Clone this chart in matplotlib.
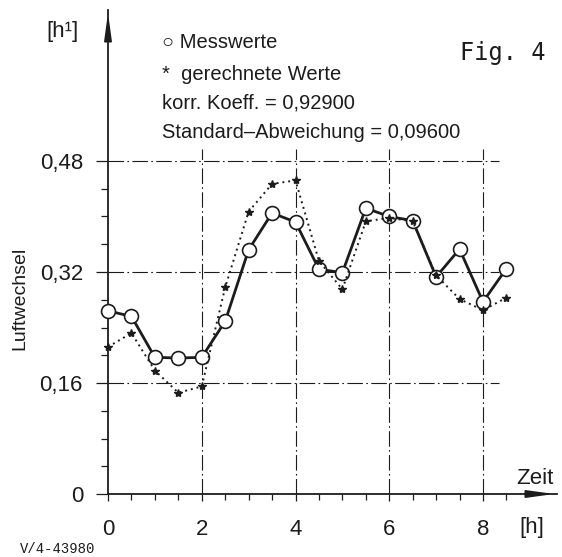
import matplotlib
matplotlib.use("Agg")
import matplotlib.pyplot as plt
from matplotlib.ticker import FixedLocator

# Zeit [h], Messwerte und gerechnete Werte der Luftwechselrate
zeit = [0.0, 0.5, 1.0, 1.5, 2.0, 2.5, 3.0, 3.5, 4.0, 4.5,
        5.0, 5.5, 6.0, 6.5, 7.0, 7.5, 8.0, 8.5]
messwerte = [0.264, 0.256, 0.197, 0.196, 0.197, 0.249, 0.352, 0.405, 0.392,
             0.324, 0.319, 0.412, 0.400, 0.394, 0.313, 0.353, 0.277, 0.325]
gerechnet = [0.212, 0.232, 0.178, 0.146, 0.155, 0.298, 0.407, 0.447, 0.452,
             0.336, 0.295, 0.393, 0.398, 0.393, 0.315, 0.281, 0.265, 0.283]

y_ticks = [0, 0.16, 0.32, 0.48]
y_labels = ["0", "0,16", "0,32", "0,48"]
x_ticks = [0, 2, 4, 6, 8]
x_labels = ["0", "2", "4", "6", "8"]

legend_lines = ["\u25cb Messwerte",
                "*  gerechnete Werte",
                "korr. Koeff. = 0,92900",
                "Standard\u2013Abweichung = 0,09600"]

INK = "#1c1c1c"
plt.rcParams["font.family"] = ["Liberation Sans", "DejaVu Sans"]

W, H = 562, 557
fig = plt.figure(figsize=(W / 100, H / 100), dpi=100)
fig.patch.set_facecolor("white")

# axes placed in pixels: origin at (108, 494), arrows end at x=557 / y=10
x0, y0, x1, y1 = 108, 494, 557, 10
ax = fig.add_axes([x0 / W, 1 - y0 / H, (x1 - x0) / W, (y0 - y1) / H])
px_per_h = 46.875
px_per_unit = 693.75
ax.set_xlim(0, (x1 - x0) / px_per_h)
ax.set_ylim(0, (y0 - y1) / px_per_unit)

for s in ["top", "right"]:
    ax.spines[s].set_visible(False)
for s in ["left", "bottom"]:
    ax.spines[s].set_color(INK)
    ax.spines[s].set_linewidth(1.3)

ax.set_xticks(x_ticks)
ax.set_xticklabels(x_labels)
ax.set_yticks(y_ticks)
ax.set_yticklabels(y_labels)
ax.xaxis.set_minor_locator(FixedLocator([0.5, 1, 1.5, 2.5, 3, 3.5, 4.5, 5, 5.5,
                                         6.5, 7, 7.5, 8.5]))
ax.yaxis.set_minor_locator(FixedLocator([0.04, 0.08, 0.12, 0.20, 0.24, 0.28,
                                         0.36, 0.40, 0.44]))
ax.tick_params(axis="y", which="major", length=9, width=0.9, color=INK,
               pad=9, labelsize=16, labelcolor=INK)
ax.tick_params(axis="y", which="minor", length=5, width=0.9, color=INK)
ax.tick_params(axis="x", which="major", length=5, width=0.9, color=INK,
               pad=13, labelsize=16, labelcolor=INK)
ax.tick_params(axis="x", which="minor", length=4, width=0.9, color=INK)

# dash-dot grid
grid_ls = (0, (14, 3, 1.5, 3))
ax.hlines([0.16, 0.32, 0.48], 0, 8.35, colors=INK, linewidth=0.8,
          linestyles=[grid_ls], zorder=1)
ax.vlines([2, 4, 6, 8], 0, 0.497, colors=INK, linewidth=0.8,
          linestyles=[grid_ls], zorder=1)

# arrow heads on the axes
xmax, ymax = ax.get_xlim()[1], ax.get_ylim()[1]
ax.annotate("", xy=(xmax, 0), xytext=(xmax - 0.5, 0), annotation_clip=False,
            arrowprops=dict(arrowstyle="-|>,head_length=1.6,head_width=0.22",
                            color=INK, lw=1.3))
ax.annotate("", xy=(0, ymax), xytext=(0, ymax - 0.04), annotation_clip=False,
            arrowprops=dict(arrowstyle="-|>,head_length=1.6,head_width=0.22",
                            color=INK, lw=1.3))

# data
ax.plot(zeit, messwerte, color=INK, linewidth=2.0, marker="o", markersize=10,
        markerfacecolor="white", markeredgecolor=INK, markeredgewidth=1.2,
        zorder=3, clip_on=False)
ax.plot(zeit, gerechnet, color=INK, linewidth=1.4, linestyle=(0, (1, 2)),
        marker="*", markersize=6, markerfacecolor=INK, markeredgecolor=INK,
        zorder=4, clip_on=False)

# texts
fig.text(63 / W, 1 - 32 / H, "[h\u00b9]", fontsize=16, color=INK,
         ha="center", va="center")
fig.text(20 / W, 1 - 298 / H, "Luftwechsel", fontsize=14, color=INK,
         rotation=90, ha="center", va="center")
fig.text(535 / W, 1 - 479 / H, "Zeit", fontsize=16, color=INK,
         ha="center", va="center")
fig.text(532 / W, 1 - 527 / H, "[h]", fontsize=16, color=INK,
         ha="center", va="center")
fig.text(503 / W, 1 - 53 / H, "Fig. 4", fontsize=17, color=INK,
         family="DejaVu Sans Mono", ha="center", va="center")
fig.text(20 / W, 1 - 549 / H, "V/4-43980", fontsize=10, color=INK,
         family="Liberation Mono", ha="left", va="center")

for txt, yy in zip(legend_lines, [43, 74, 103, 133]):
    fig.text(162 / W, 1 - yy / H, txt, fontsize=14.5, color=INK,
             ha="left", va="center")

fig.savefig("out.png", dpi=100)
